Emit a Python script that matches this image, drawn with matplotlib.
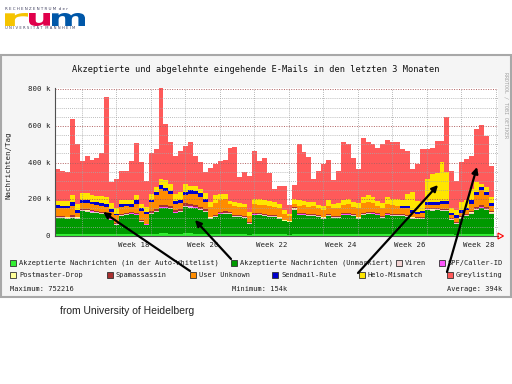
import numpy as np
import matplotlib.pyplot as plt
from matplotlib.patches import Rectangle, FancyArrowPatch, Polygon, PathPatch
from matplotlib.textpath import TextPath
from matplotlib.font_manager import FontProperties
from matplotlib.transforms import Affine2D

W, H = 512, 384
MONO = 'DejaVu Sans Mono'


def fx(x):
    return x / W


def fy(y):
    return 1 - y / H


# =============================================================================
# data (k messages per day, one bar per day)
# =============================================================================

# top of each stack level
total_k = [365, 355, 347, 640, 500, 410, 437, 416, 428, 453,
           756, 293, 313, 356, 356, 410, 509, 401, 299, 450,
           475, 805, 610, 510, 437, 464, 491, 510, 437, 401,
           347, 372, 392, 410, 416, 482, 486, 324, 351, 329,
           464, 410, 425, 345, 259, 275, 275, 167, 280, 502,
           460, 432, 313, 356, 394, 416, 308, 353, 515, 502,
           427, 367, 536, 510, 504, 482, 502, 523, 510, 515,
           473, 464, 365, 390, 475, 475, 482, 518, 520, 648,
           356, 302, 401, 420, 437, 582, 608, 545, 383]

top_green = [100, 98, 95, 100, 95, 135, 133, 128, 125, 120,
             115, 85, 60, 110, 115, 118, 113, 77, 59, 122,
             131, 150, 150, 145, 124, 130, 158, 155, 150, 140,
             131, 95, 104, 118, 122, 120, 104, 104, 100, 68,
             113, 115, 110, 105, 104, 95, 80, 75, 144, 113,
             113, 110, 108, 104, 95, 108, 100, 100, 113, 113,
             110, 95, 115, 122, 118, 113, 100, 113, 108, 108,
             110, 105, 95, 90, 92, 140, 138, 140, 135, 135,
             86, 68, 95, 108, 122, 140, 150, 140, 122]

top_orange = [155, 152, 150, 165, 123, 180, 178, 172, 168, 165,
              160, 131, 115, 160, 162, 160, 176, 135, 119, 185,
              225, 258, 245, 227, 176, 180, 221, 230, 228, 212,
              185, 159, 180, 195, 200, 175, 165, 160, 158, 110,
              175, 170, 168, 165, 160, 150, 120, 110, 176, 165,
              168, 160, 162, 150, 140, 165, 150, 150, 170, 172,
              160, 150, 180, 185, 180, 165, 155, 177, 170, 165,
              150, 150, 126, 120, 125, 168, 170, 168, 173, 175,
              113, 100, 126, 140, 177, 225, 252, 222, 162]

top_yellow = [192, 190, 190, 225, 177, 234, 232, 225, 220, 218,
              215, 178, 150, 198, 198, 195, 221, 176, 158, 230,
              266, 312, 306, 285, 230, 240, 285, 275, 275, 257,
              232, 186, 222, 230, 228, 190, 185, 180, 177, 131,
              204, 200, 195, 190, 185, 175, 140, 122, 203, 194,
              190, 186, 188, 170, 165, 194, 175, 178, 194, 203,
              185, 180, 212, 221, 215, 190, 180, 213, 200, 200,
              195, 231, 240, 190, 185, 311, 338, 342, 401, 348,
              150, 140, 186, 195, 258, 294, 285, 267, 213]

# thin layers
whitelist = [12, 12, 11, 12, 11, 13, 13, 12, 12, 12,
             11, 10, 9, 12, 12, 12, 12, 10, 9, 12,
             13, 14, 14, 13, 12, 12, 14, 14, 13, 13,
             12, 10, 11, 12, 12, 12, 11, 11, 11, 8,
             11, 11, 11, 10, 10, 10, 9, 8, 10, 12,
             11, 11, 11, 10, 10, 11, 10, 10, 11, 11,
             11, 10, 11, 12, 12, 11, 10, 11, 11, 11,
             11, 10, 10, 9, 9, 12, 12, 12, 12, 12,
             9, 8, 10, 11, 12, 13, 13, 13, 12]

viren = [4, 4, 4, 4, 4, 5, 5, 5, 4, 4,
         4, 4, 3, 4, 4, 4, 4, 4, 3, 4,
         5, 5, 5, 5, 4, 4, 5, 5, 5, 5,
         4, 4, 4, 4, 4, 4, 4, 4, 4, 3,
         4, 4, 4, 4, 4, 4, 3, 3, 4, 4,
         4, 4, 4, 4, 4, 4, 4, 4, 4, 4,
         4, 4, 4, 4, 4, 4, 4, 4, 4, 4,
         4, 4, 4, 4, 4, 5, 5, 5, 5, 5,
         4, 3, 4, 4, 5, 5, 5, 5, 5]

spf = [1, 1, 1, 1, 1, 1, 1, 1, 1, 1,
       1, 1, 1, 1, 1, 1, 1, 1, 1, 1,
       1, 1, 1, 1, 1, 1, 1, 1, 1, 1,
       1, 1, 1, 1, 1, 1, 1, 1, 1, 1,
       1, 1, 1, 1, 1, 1, 1, 1, 1, 1,
       1, 1, 1, 1, 1, 1, 1, 1, 1, 1,
       1, 1, 1, 1, 1, 1, 1, 1, 1, 1,
       1, 1, 1, 1, 1, 1, 1, 1, 1, 1,
       1, 1, 1, 1, 1, 1, 1, 1, 1]

postmaster = [1, 1, 1, 1, 1, 1, 1, 1, 1, 1,
              1, 1, 1, 1, 1, 1, 1, 1, 1, 1,
              1, 1, 1, 1, 1, 1, 1, 1, 1, 1,
              1, 1, 1, 1, 1, 1, 1, 1, 1, 1,
              1, 1, 1, 1, 1, 1, 1, 1, 1, 1,
              1, 1, 1, 1, 1, 1, 1, 1, 1, 1,
              1, 1, 1, 1, 1, 1, 1, 1, 1, 1,
              1, 1, 1, 1, 1, 1, 1, 1, 1, 1,
              1, 1, 1, 1, 1, 1, 1, 1, 1]

spamassassin = [5, 5, 5, 6, 5, 6, 6, 6, 6, 5,
                5, 5, 4, 5, 5, 5, 6, 5, 4, 6,
                8, 10, 12, 12, 10, 12, 14, 14, 13, 12,
                8, 5, 5, 6, 6, 6, 5, 5, 5, 4,
                5, 5, 5, 5, 5, 5, 4, 4, 6, 5,
                5, 5, 5, 5, 5, 5, 5, 5, 5, 5,
                5, 5, 5, 5, 5, 5, 5, 5, 5, 5,
                6, 6, 5, 5, 5, 7, 7, 7, 7, 7,
                5, 4, 6, 8, 10, 12, 12, 12, 10]

sendmail = [12, 12, 12, 18, 18, 17, 16, 15, 15, 14,
            14, 15, 6, 14, 14, 14, 18, 15, 12, 13,
            14, 19, 18, 20, 15, 15, 18, 20, 20, 20,
            15, 0, 0, 0, 0, 0, 0, 0, 0, 0,
            0, 0, 0, 0, 0, 0, 0, 0, 0, 0,
            0, 0, 0, 0, 0, 0, 0, 0, 0, 0,
            0, 0, 0, 0, 0, 0, 0, 0, 0, 0,
            14, 14, 14, 12, 10, 17, 17, 17, 17, 15,
            14, 13, 15, 15, 18, 15, 15, 18, 18]

week_labels = ['Week 18', 'Week 20', 'Week 22', 'Week 24', 'Week 26', 'Week 28']
ytick_vals = [0, 200, 400, 600, 800]
ytick_text = ['0', '200 k', '400 k', '600 k', '800 k']

legend_rows = [
    [('Akzeptierte Nachrichten (in der Auto-Whitelist)', '#33EE33', 10),
     ('Akzeptierte Nachrichten (Unmarkiert)', '#009900', 231),
     ('Viren', '#F4D4D4', 396),
     ('SPF/Caller-ID', '#FF55FF', 439)],
    [('Postmaster-Drop', '#FFFF99', 10),
     ('Spamassassin', '#A83030', 107),
     ('User Unknown', '#FF8C00', 190),
     ('Sendmail-Rule', '#0000CC', 272),
     ('Helo-Mismatch', '#FFE600', 359),
     ('Greylisting', '#FF5A5A', 447)],
]

# =============================================================================
# derive the single series from the stack levels
# =============================================================================
total_k = np.array(total_k, float)
wl = np.array(whitelist, float)
green = np.array(top_green, float) - wl
vir = np.array(viren, float)
spf_a = np.array(spf, float)
pm = np.array(postmaster, float)
spam = np.array(spamassassin, float)
uu = np.array(top_orange, float) - np.array(top_green, float) - vir - spf_a - pm - spam
blue = np.array(sendmail, float)
helo = np.array(top_yellow, float) - np.array(top_orange, float) - blue
grey = total_k - np.array(top_yellow, float)

layers = [(wl, '#33EE33'), (green, '#009900'), (vir, '#E8C8C8'),
          (spf_a, '#FF55FF'), (pm, '#FFFF99'), (spam, '#A83030'),
          (uu, '#FF8C00'), (blue, '#0000CC'), (helo, '#FFE600'),
          (grey, '#FF5A5A')]

n = len(total_k)
edges = np.arange(n + 1)
px_day = 4.93
x_max = 443 / px_day
y_scale = (236 - 89.3) / 800
y_top = 236 - 805 * y_scale

# =============================================================================
# figure
# =============================================================================
fig = plt.figure(figsize=(5.12, 3.84), dpi=100)
fig.patch.set_facecolor('white')

# grey panel around the graph
fig.add_artist(Rectangle((fx(1), fy(297)), 510 / W, (297 - 55) / H,
                         transform=fig.transFigure, facecolor='#F5F5F5',
                         edgecolor='#A8A8A8', lw=1.5, zorder=-2))

ax = fig.add_axes([fx(55), fy(236), 443 / W, (236 - y_top) / H])
ax.set_facecolor('white')

bottom = np.zeros(n)
for vals, col in layers:
    ax.stairs(bottom + vals, edges, baseline=bottom, fill=True,
              color=col, lw=0, zorder=2)
    bottom = bottom + vals

ax.set_xlim(0, x_max)
ax.set_ylim(0, 805)

# grid on top of the data, like rrdtool
for v in range(50, 801, 50):
    if v % 200 == 0:
        ax.axhline(v, color='#B06060', lw=0.7, ls=(0, (1, 1.5)), zorder=5)
    else:
        ax.axhline(v, color='#A8A8A8', lw=0.6, ls=(0, (1, 1.5)), zorder=5)
for k in range(13):
    xw = 5.4 + 7 * k
    if xw < x_max:
        ax.axvline(xw, color='#A0A0A0', lw=0.6, ls=(0, (1, 1.5)), zorder=5)
ax.axvline(x_max - 0.05, color='#B06060', lw=0.7, ls=(0, (1, 1.5)), zorder=5)

ax.set_xticks([])
ax.set_yticks([])
for s in ['top', 'right']:
    ax.spines[s].set_visible(False)
for s in ['left', 'bottom']:
    ax.spines[s].set_color('#505050')
    ax.spines[s].set_linewidth(0.8)
    ax.spines[s].set_zorder(6)

# axis arrow at the end of the time axis
fig.add_artist(Polygon([[fx(498), fy(233)], [fx(503.5), fy(236)], [fx(498), fy(239)]],
                       closed=True, fill=False, edgecolor='red', lw=0.8,
                       transform=fig.transFigure))

# y labels
for v, t in zip(ytick_vals, ytick_text):
    ax.text(-5 / 443, v, t, transform=ax.get_yaxis_transform(), ha='right',
            va='center', fontsize=5.3, family=MONO, color='#202020')

# week labels
for k, lbl in enumerate(week_labels):
    ax.text(15.9 + 14 * k, -(245 - 236) / (236 - y_top), lbl,
            transform=ax.get_xaxis_transform(), ha='center', va='center',
            fontsize=5.3, family=MONO, color='#202020')

fig.text(fx(256), fy(70), 'Akzeptierte und abgelehnte eingehende E-Mails in den letzten 3 Monaten',
         ha='center', va='center', fontsize=6.2, family=MONO, color='#101010')
fig.text(fx(9), fy(165), 'Nachrichten/Tag', rotation=90, ha='center', va='center',
         fontsize=5.3, family=MONO, color='#202020')
fig.text(fx(506), fy(105), 'RRDTOOL / TOBI OETIKER', rotation=270, ha='center',
         va='center', fontsize=3.6, family=MONO, color='#A0A0A0')

# legend
for row, yrow in zip(legend_rows, [263, 275]):
    for name, col, x0 in row:
        fig.add_artist(Rectangle((fx(x0), fy(yrow + 3)), 6 / W, 6 / H,
                                 transform=fig.transFigure, facecolor=col,
                                 edgecolor='#303030', lw=0.6))
        fig.text(fx(x0 + 9), fy(yrow), name, ha='left', va='center',
                 fontsize=5.0, family=MONO, color='#202020')

fig.text(fx(10), fy(289), 'Maximum: 752216', ha='left', va='center',
         fontsize=5.0, family=MONO, color='#202020')
fig.text(fx(232), fy(289), 'Minimum: 154k', ha='left', va='center',
         fontsize=5.0, family=MONO, color='#202020')
fig.text(fx(502), fy(289), 'Average: 394k', ha='right', va='center',
         fontsize=5.0, family=MONO, color='#202020')

# arrows from the legend into the graph (tail, head) in picture pixels
arrows = [((190, 271), (103, 212)),
          ((231, 259), (195, 220)),
          ((358, 273), (438, 185)),
          ((447, 272), (477, 167))]
for (tx, ty), (hx, hy) in arrows:
    fig.add_artist(FancyArrowPatch((fx(tx), fy(ty)), (fx(hx), fy(hy)),
                                   transform=fig.transFigure, arrowstyle='-|>',
                                   mutation_scale=9, lw=1.6, color='black',
                                   shrinkA=0, shrinkB=0, zorder=10))

# logo
fp = FontProperties(family='DejaVu Sans', weight='bold')
for letter, x0, wid, col in [('r', 5, 23, '#F5C400'), ('u', 29, 21, '#E0004B'),
                             ('m', 52, 33, '#0057A8')]:
    tp = TextPath((0, 0), letter, size=20, prop=fp)
    ext = tp.get_extents()
    tr = (Affine2D().translate(-ext.x0, -ext.y0)
          .scale(wid / ext.width, 13 / ext.height)
          .translate(x0, H - 26).scale(1 / W, 1 / H) + fig.transFigure)
    fig.add_artist(PathPatch(tp, transform=tr, facecolor=col, lw=0))
fig.text(fx(5), fy(9.5), 'R E C H E N Z E N T R U M  d e r', ha='left', va='center',
         fontsize=2.9, color='#404060')
fig.text(fx(5), fy(28), 'U N I V E R S I T Ä T  M A N N H E I M', ha='left', va='center',
         fontsize=2.7, color='#404060')

fig.text(fx(60), fy(311), 'from University of Heidelberg', ha='left', va='center',
         fontsize=7.5, family='Liberation Sans', color='#222222')

fig.savefig('out.png', dpi=100)
